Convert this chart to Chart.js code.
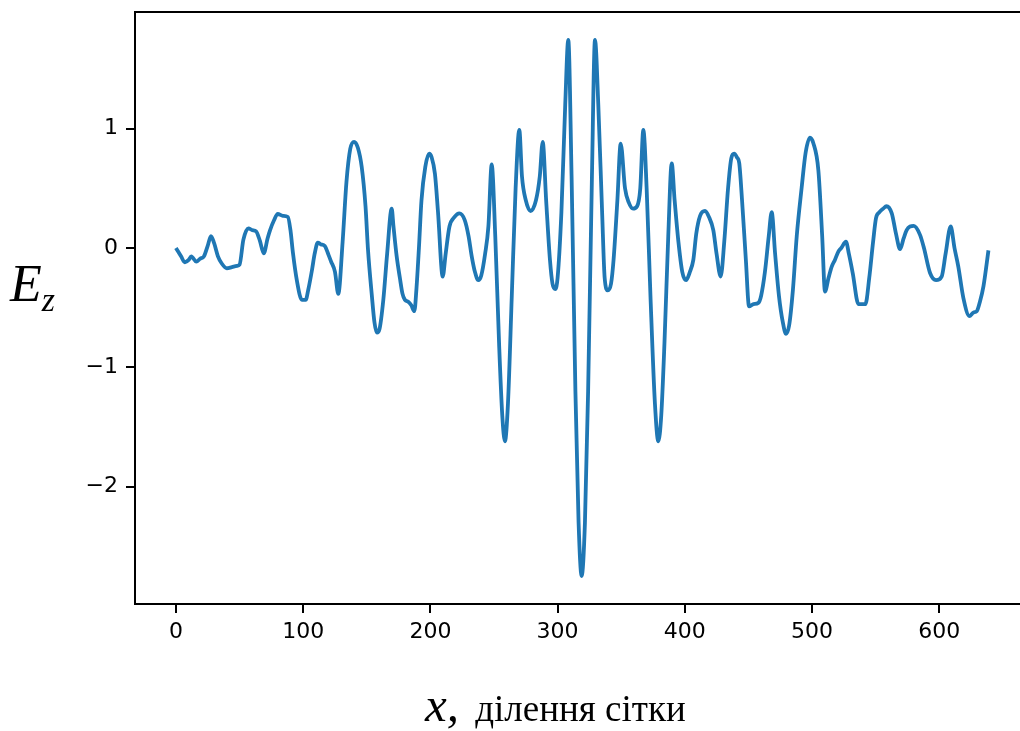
<!DOCTYPE html>
<html lang="uk">
<head>
<meta charset="UTF-8">
<title>Ez</title>
<script src="https://cdnjs.cloudflare.com/ajax/libs/Chart.js/4.4.0/chart.umd.min.js"></script>
<style>
    body { margin: 0; background: #fff; }
    .wrap { position: relative; width: 1020px; height: 731px; overflow: hidden; }
    .ylab { position: absolute; left: 10px; top: 258px; font-family: "Liberation Serif", serif; font-style: italic; font-size: 52px; line-height: 52px; color: #000; }
    .ylab sub { font-size: 34px; vertical-align: -10px; }
    .xlab { position: absolute; left: 425px; top: 681px; font-family: "Liberation Serif", serif; font-size: 37px; line-height: 48px; color: #000; white-space: nowrap; }
    .xlab i { font-size: 49px; margin-right: 7px; }
</style>
</head>
<body>
<div class="wrap">
    <canvas id="chart" width="1020" height="731"></canvas>
    <div class="ylab">E<sub>z</sub></div>
    <div class="xlab"><i>x,</i> ділення сітки</div>
</div>
<script>
// grid position and field value
const gridX = [
    0, 4, 7, 10, 12, 16, 19, 22, 25, 27.5, 30, 33, 36, 40, 44, 48, 50, 53, 57, 60,
    63, 66, 69, 72, 74, 77, 80, 84, 88, 90, 92, 95, 99, 102, 104, 107, 109, 111.5, 114, 117,
    120, 122, 125, 127.6, 131, 134, 137, 140, 143, 146, 149, 151, 154, 156, 158, 160, 163, 166, 169.6, 171,
    173.5, 176, 178, 180, 182.6, 185, 187.4, 189, 191, 193, 196, 199, 201, 203.6, 206, 209.7, 212, 215, 219, 222.7,
    227, 230, 232.5, 235, 237.7, 240, 243, 245.6, 248.2, 251, 254, 256.5, 258.6, 261, 264, 267, 269.9, 272, 275, 278.8,
    283, 286, 288.3, 291, 294, 296, 298.2, 300, 303, 306, 308.4, 311, 314, 316.5, 318.9, 321.5, 324, 327, 329.4, 332,
    335, 337, 339.5, 342, 344, 347, 349.6, 353, 356, 359.3, 362.5, 365, 367.4, 370, 373, 376.5, 379.2, 381.5, 384, 387,
    389.7, 392, 395, 398, 401, 404, 406.7, 409, 412, 415.9, 419, 422.4, 425, 428.2, 431, 434, 436.5, 438.8, 441, 442.8,
    445, 448, 450.5, 454, 457.8, 460, 463, 466, 468.3, 471, 474, 477, 479.6, 482, 485, 488, 491.9, 495, 498.4, 501,
    505, 508, 510.2, 513, 515.5, 518, 520.7, 523, 526.7, 529, 532, 536.5, 542, 545, 548, 550.3, 553, 556, 558.5, 562.7,
    566, 569.2, 572, 574.4, 577, 580, 584.9, 588, 592.8, 597.5, 601.9, 605, 609, 612, 615, 619, 623.7, 627, 629.5, 632,
    634.8, 638.7
];
const ezValues = [
    0.0, -0.07, -0.12, -0.10, -0.07, -0.115, -0.09, -0.07, 0.02, 0.10, 0.04, -0.07, -0.13, -0.17, -0.16, -0.15, -0.14, 0.07, 0.165, 0.15,
    0.14, 0.06, -0.045, 0.08, 0.15, 0.23, 0.285, 0.27, 0.26, 0.15, -0.045, -0.27, -0.435, -0.435, -0.35, -0.18, -0.05, 0.045, 0.03, 0.017,
    -0.06, -0.115, -0.2, -0.385, 0.05, 0.55, 0.83, 0.89, 0.84, 0.68, 0.35, -0.02, -0.4, -0.62, -0.71, -0.68, -0.435, -0.05, 0.33, 0.18,
    -0.07, -0.25, -0.38, -0.435, -0.45, -0.48, -0.53, -0.35, 0.0, 0.4, 0.68, 0.79, 0.76, 0.62, 0.3, -0.24, -0.05, 0.18, 0.26, 0.29,
    0.234, 0.1, -0.07, -0.2, -0.27, -0.23, -0.05, 0.18, 0.7, 0.1, -0.8, -1.4, -1.62, -1.3, -0.4, 0.5, 0.99, 0.6, 0.4, 0.31,
    0.4, 0.6, 0.89, 0.4, -0.1, -0.3, -0.345, -0.25, 0.3, 1.2, 1.745, 0.6, -1.2, -2.3, -2.75, -2.3, -1.2, 0.6, 1.745, 1.2,
    0.3, -0.25, -0.355, -0.3, -0.1, 0.4, 0.875, 0.5, 0.38, 0.33, 0.35, 0.5, 0.99, 0.5, -0.4, -1.3, -1.62, -1.4, -0.8, 0.1,
    0.71, 0.4, 0.05, -0.2, -0.27, -0.2, -0.1, 0.12, 0.27, 0.31, 0.26, 0.15, -0.05, -0.24, 0.05, 0.5, 0.75, 0.79, 0.76, 0.71,
    0.4, -0.1, -0.49, -0.47, -0.46, -0.4, -0.2, 0.1, 0.3, -0.05, -0.4, -0.62, -0.72, -0.65, -0.35, 0.1, 0.51, 0.8, 0.925, 0.88,
    0.65, 0.1, -0.365, -0.25, -0.156, -0.1, -0.03, 0.0, 0.053, -0.05, -0.21, -0.47, -0.47, -0.25, 0.05, 0.25, 0.3, 0.33, 0.35, 0.29,
    0.12, -0.01, 0.08, 0.15, 0.18, 0.185, 0.11, 0.0, -0.21, -0.27, -0.24, -0.05, 0.18, 0.0, -0.156, -0.42, -0.57, -0.54, -0.53, -0.45,
    -0.32, -0.02
];
const xTicks = [0, 100, 200, 300, 400, 500, 600];
const yTicks = [-2, -1, 0, 1];

const points = gridX.map((x, i) => ({ x: x, y: ezValues[i] }));

// top spine (right spine falls outside the canvas)
const topSpine = {
    id: 'topSpine',
    afterDraw(chart) {
        const { ctx, chartArea } = chart;
        ctx.save();
        ctx.strokeStyle = '#000';
        ctx.lineWidth = 2;
        ctx.beginPath();
        ctx.moveTo(chartArea.left - 1, chartArea.top);
        ctx.lineTo(chartArea.right, chartArea.top);
        ctx.stroke();
        ctx.restore();
    }
};

const tickFont = { family: 'DejaVu Sans', size: 22 };

new Chart(document.getElementById('chart'), {
    type: 'line',
    data: {
        datasets: [{
            data: points,
            borderColor: '#1f77b4',
            borderWidth: 3.8,
            pointRadius: 0,
            cubicInterpolationMode: 'monotone',
            fill: false
        }]
    },
    options: {
        responsive: false,
        animation: false,
        events: [],
        layout: { padding: { top: 12, right: 0, left: 0, bottom: 0 } },
        plugins: { legend: { display: false }, tooltip: { enabled: false } },
        scales: {
            x: {
                type: 'linear',
                min: -32.2,
                max: 663.5,
                afterBuildTicks: s => { s.ticks = xTicks.map(v => ({ value: v })); },
                afterFit: s => { s.height = 127; s.paddingLeft = 0; s.paddingRight = 0; },
                grid: { drawOnChartArea: false, drawTicks: true, tickLength: 9, color: '#000', lineWidth: 2 },
                border: { display: true, color: '#000', width: 2 },
                ticks: { color: '#000', font: tickFont, padding: 6, maxRotation: 0 }
            },
            y: {
                min: -2.984,
                max: 1.978,
                afterBuildTicks: s => { s.ticks = yTicks.map(v => ({ value: v })); },
                afterFit: s => { s.width = 135; s.paddingTop = 0; s.paddingBottom = 0; },
                grid: { drawOnChartArea: false, drawTicks: true, tickLength: 9, color: '#000', lineWidth: 2 },
                border: { display: true, color: '#000', width: 2 },
                ticks: {
                    color: '#000', font: tickFont, padding: 8,
                    callback: v => (v < 0 ? '\u2212' + Math.abs(v) : String(v))
                }
            }
        }
    },
    plugins: [topSpine]
});
</script>
</body>
</html>
